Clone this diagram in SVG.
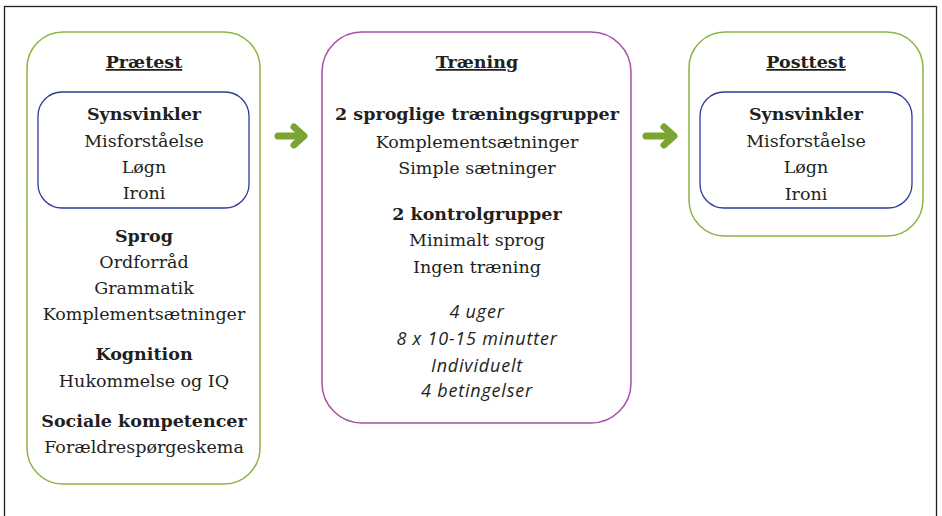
<svg xmlns="http://www.w3.org/2000/svg" width="942" height="516" viewBox="0 0 942 516">
<style>
.frame{fill:#fff;stroke:#231f20;stroke-width:1.3}
.g{fill:#fff;stroke:#8bb43f;stroke-width:1.5}
.p{fill:#fff;stroke:#a550a8;stroke-width:1.5}
.b{fill:#fff;stroke:#2e3a96;stroke-width:1.3}
text{font-family:"DejaVu Serif","Liberation Serif",serif;font-size:17.5px;fill:#231f20;text-anchor:middle}
.h{font-weight:bold}
.u{text-decoration:underline}
.i{font-family:"Open Sans","Noto Sans",sans-serif;font-style:italic;font-size:18px;letter-spacing:0.8px}
.arr{fill:none;stroke:#7aa533;stroke-width:7;stroke-linecap:round;stroke-linejoin:round}
</style>
<rect class="frame" x="4.5" y="6.5" width="932" height="520"/>
<g id="praetest">
<rect class="g" x="27" y="32" width="233" height="452" rx="36"/>
<text class="h u" x="144" y="68">Prætest</text>
<rect class="b" x="38" y="92" width="211" height="116" rx="24"/>
<text class="h" x="144" y="120">Synsvinkler</text>
<text x="144" y="147">Misforståelse</text>
<text x="144" y="173">Løgn</text>
<text x="144" y="199">Ironi</text>
<text class="h" x="144" y="242">Sprog</text>
<text x="144" y="268">Ordforråd</text>
<text x="144" y="294">Grammatik</text>
<text x="144" y="320">Komplementsætninger</text>
<text class="h" x="144" y="360">Kognition</text>
<text x="144" y="387">Hukommelse og IQ</text>
<text class="h" x="144" y="427">Sociale kompetencer</text>
<text x="144" y="453">Forældrespørgeskema</text>
</g>
<g id="traening">
<rect class="p" x="322" y="32" width="309" height="391" rx="40"/>
<text class="h u" x="477" y="68">Træning</text>
<text class="h" x="477" y="120">2 sproglige træningsgrupper</text>
<text x="477" y="148">Komplementsætninger</text>
<text x="477" y="174">Simple sætninger</text>
<text class="h" x="477" y="220">2 kontrolgrupper</text>
<text x="477" y="246">Minimalt sprog</text>
<text x="477" y="273">Ingen træning</text>
<text class="i" x="477" y="318">4 uger</text>
<text class="i" x="477" y="345">8 x 10-15 minutter</text>
<text class="i" x="477" y="372">Individuelt</text>
<text class="i" x="477" y="397">4 betingelser</text>
</g>
<g id="posttest">
<rect class="g" x="689" y="32" width="234" height="204" rx="36"/>
<text class="h u" x="806" y="68">Posttest</text>
<rect class="b" x="700" y="92" width="212" height="116" rx="24"/>
<text class="h" x="806" y="120">Synsvinkler</text>
<text x="806" y="147">Misforståelse</text>
<text x="806" y="173">Løgn</text>
<text x="806" y="200">Ironi</text>
</g>
<g id="connectors">
<path class="arr" d="M278 136H303M294 127L304 136L294 145"/>
<path class="arr" d="M646 136H673M664 127L674 136L664 145"/>
</g>
</svg>
